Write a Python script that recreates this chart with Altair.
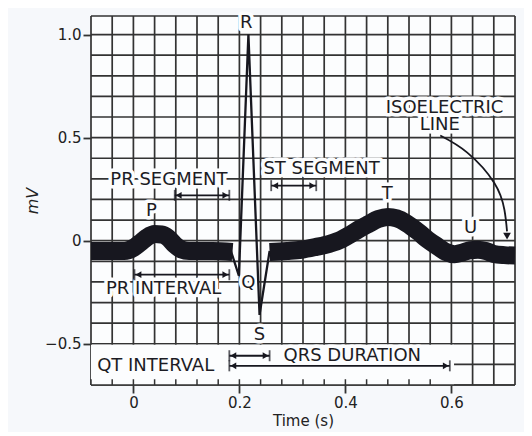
import altair as alt
import pandas as pd

# ---------------- ECG trace (time in s, voltage in mV) ----------------
band1_t = [-0.08, -0.04, -0.017, 0.0, 0.012, 0.025, 0.04, 0.053, 0.065, 0.078, 0.09, 0.105, 0.15, 0.187]
band1_mv = [-0.05, -0.05, -0.05, -0.035, -0.012, 0.015, 0.032, 0.03, 0.015, -0.02, -0.042, -0.05, -0.05, -0.055]

qrs_t = [0.184, 0.199, 0.217, 0.238, 0.257]
qrs_mv = [-0.05, -0.17, 1.0, -0.36, -0.05]

band2_t = [0.257, 0.29, 0.317, 0.345, 0.37, 0.392, 0.406, 0.425, 0.443, 0.462, 0.48, 0.497,
           0.515, 0.538, 0.555, 0.575, 0.59, 0.606, 0.62, 0.635, 0.65, 0.665, 0.68, 0.70, 0.72]
band2_mv = [-0.055, -0.05, -0.044, -0.03, -0.015, 0.005, 0.025, 0.055, 0.08, 0.105, 0.115, 0.108,
            0.085, 0.042, 0.005, -0.03, -0.055, -0.066, -0.058, -0.046, -0.044, -0.05, -0.064, -0.07, -0.072]

# ---------------- grid / axes ----------------
grid_t = [-0.08, -0.04, 0.0, 0.04, 0.08, 0.12, 0.16, 0.2, 0.24, 0.28, 0.32, 0.36, 0.4,
          0.44, 0.48, 0.52, 0.56, 0.6, 0.64, 0.68, 0.72]
grid_mv = [-0.7, -0.6, -0.5, -0.4, -0.3, -0.2, -0.1, 0.0, 0.1, 0.2, 0.3, 0.4, 0.5,
           0.6, 0.7, 0.8, 0.9, 1.0, 1.09]
minor_tick_t = [-0.08, -0.04, 0.0, 0.04, 0.08, 0.12, 0.16, 0.2, 0.24, 0.28, 0.32, 0.36,
                0.4, 0.44, 0.48, 0.52, 0.56]
x_ticks = [0, 0.2, 0.4, 0.6]
y_ticks = [-0.5, 0, 0.5, 1.0]
t_domain = [-0.08, 0.72]
mv_domain = [-0.7, 1.09]
box_t = [-0.08, 0.605]
box_mv = [-0.7, -0.505]

# ---------------- annotations ----------------
label_text = ["P", "Q", "R", "S", "T", "U", "PR SEGMENT", "PR INTERVAL", "ST SEGMENT",
              "QRS DURATION", "QT INTERVAL", "ISOELECTRIC", "LINE"]
label_t = [0.034, 0.217, 0.213, 0.238, 0.479, 0.636, 0.067, 0.057, 0.355,
           0.413, 0.042, 0.587, 0.578]
label_mv = [0.146, -0.204, 1.058, -0.456, 0.228, 0.063, 0.296, -0.233, 0.35,
            -0.558, -0.607, 0.646, 0.563]

arrow_name = ["PR SEGMENT", "PR INTERVAL", "ST SEGMENT", "QRS DURATION", "QT INTERVAL"]
arrow_t0 = [0.078, 0.002, 0.26, 0.181, 0.181]
arrow_t1 = [0.181, 0.181, 0.345, 0.257, 0.597]
arrow_mv = [0.22, -0.165, 0.267, -0.558, -0.607]

iso_t = [0.579, 0.630, 0.681, 0.700, 0.705]
iso_mv = [0.51, 0.427, 0.28, 0.15, 0.045]
iso_tip_t = [0.705]
iso_tip_mv = [0.022]

INK = "#17171f"
GRID = "#333333"
PAPER = "#fcfdfe"
FONT = "DejaVu Sans"

# ---------------- data frames ----------------
band_df = pd.DataFrame({
    "t": band1_t + band2_t,
    "mv": band1_mv + band2_mv,
    "seg": ["a"] * len(band1_t) + ["b"] * len(band2_t),
})
qrs_df = pd.DataFrame({"t": qrs_t, "mv": qrs_mv})
vgrid_df = pd.DataFrame({"t": grid_t, "lo": [mv_domain[0]] * len(grid_t), "hi": [mv_domain[1]] * len(grid_t)})
hgrid_df = pd.DataFrame({"mv": grid_mv, "lo": [t_domain[0]] * len(grid_mv), "hi": [t_domain[1]] * len(grid_mv)})
box_df = pd.DataFrame({"t0": [box_t[0]], "t1": [box_t[1]], "m0": [box_mv[0]], "m1": [box_mv[1]]})
bottom_df = pd.DataFrame({"mv": [mv_domain[0]], "lo": [t_domain[0]], "hi": [t_domain[1]]})
minor_df = pd.DataFrame({"t": minor_tick_t, "lo": [mv_domain[0]] * len(minor_tick_t),
                         "hi": [mv_domain[0] + 0.028] * len(minor_tick_t)})
label_df = pd.DataFrame({"t": label_t, "mv": label_mv, "text": label_text})
arrow_df = pd.DataFrame({"name": arrow_name, "t0": arrow_t0, "t1": arrow_t1, "mv": arrow_mv})
iso_df = pd.DataFrame({"t": iso_t, "mv": iso_mv, "o": list(range(len(iso_t)))})
tip_df = pd.DataFrame({"t": iso_tip_t, "mv": iso_tip_mv})

xscale = alt.Scale(domain=t_domain, nice=False, zero=False)
yscale = alt.Scale(domain=mv_domain, nice=False, zero=False)

xaxis = alt.Axis(values=x_ticks, grid=False, domain=False,
                 labelExpr="datum.value == 0 ? '0' : format(datum.value, '.1f')",
                 tickSize=8, tickWidth=1.8, tickColor=GRID,
                 labelFont=FONT, labelFontSize=15, labelColor="#222222", labelPadding=2,
                 title="Time (s)", titleFont=FONT, titleFontSize=15, titleFontWeight="normal",
                 titleColor="#222222", titlePadding=3)
yaxis = alt.Axis(values=y_ticks, grid=False, domain=False,
                 labelExpr="datum.value == 0 ? '0' : format(datum.value, '.1f')",
                 tickSize=8, tickWidth=1.8, tickColor=GRID,
                 labelFont=FONT, labelFontSize=15, labelColor="#222222", labelPadding=2,
                 title="mV", titleFont=FONT, titleFontSize=16, titleFontWeight="normal",
                 titleFontStyle="italic", titleColor="#222222", titlePadding=4)


def X(field):
    return alt.X(field, type="quantitative", scale=xscale, axis=xaxis)


def Y(field):
    return alt.Y(field, type="quantitative", scale=yscale, axis=yaxis)


vgrid = alt.Chart(vgrid_df).mark_rule(color=GRID, strokeWidth=1.7).encode(
    x=X("t"), y=Y("lo"), y2="hi")
hgrid = alt.Chart(hgrid_df).mark_rule(color=GRID, strokeWidth=1.7).encode(
    y=Y("mv"), x=X("lo"), x2="hi")
box = alt.Chart(box_df).mark_rect(color=PAPER).encode(
    x=X("t0"), x2="t1", y=Y("m0"), y2="m1")
bottom = alt.Chart(bottom_df).mark_rule(color=GRID, strokeWidth=1.7).encode(
    y=Y("mv"), x=X("lo"), x2="hi")
minor = alt.Chart(minor_df).mark_rule(color=GRID, strokeWidth=1.5).encode(
    x=X("t"), y=Y("lo"), y2="hi")

halo = alt.Chart(label_df).mark_text(
    font=FONT, fontSize=18, align="center", baseline="middle",
    fill=PAPER, stroke=PAPER, strokeWidth=7, strokeJoin="round").encode(
    x=X("t"), y=Y("mv"), text="text:N")

band = alt.Chart(band_df).mark_line(
    color=INK, strokeWidth=18, interpolate="monotone", strokeCap="butt", strokeJoin="round").encode(
    x=X("t"), y=Y("mv"), detail="seg:N")
qrs = alt.Chart(qrs_df).mark_line(color=INK, strokeWidth=2.3, strokeJoin="miter").encode(
    x=X("t"), y=Y("mv"))

arrow_line = alt.Chart(arrow_df).mark_rule(color=INK, strokeWidth=1.8).encode(
    x=X("t0"), x2="t1", y=Y("mv"))
bar0 = alt.Chart(arrow_df).mark_tick(color=INK, orient="vertical", size=11, thickness=1.8).encode(
    x=X("t0"), y=Y("mv"))
bar1 = alt.Chart(arrow_df).mark_tick(color=INK, orient="vertical", size=11, thickness=1.8).encode(
    x=X("t1"), y=Y("mv"))
head0 = alt.Chart(arrow_df).mark_point(shape="triangle-left", filled=True, color=INK, size=45,
                                       opacity=1, xOffset=4).encode(x=X("t0"), y=Y("mv"))
head1 = alt.Chart(arrow_df).mark_point(shape="triangle-right", filled=True, color=INK, size=45,
                                       opacity=1, xOffset=-4).encode(x=X("t1"), y=Y("mv"))

iso_line = alt.Chart(iso_df).mark_line(color=INK, strokeWidth=1.8, interpolate="natural").encode(
    x=X("t"), y=Y("mv"), order="o:Q")
iso_tip = alt.Chart(tip_df).mark_point(shape="triangle-down", filled=True, color=INK, size=60,
                                       opacity=1).encode(x=X("t"), y=Y("mv"))

text = alt.Chart(label_df).mark_text(
    font=FONT, fontSize=18, align="center", baseline="middle", color="#1c1c24").encode(
    x=X("t"), y=Y("mv"), text="text:N")

chart = alt.layer(
    vgrid, hgrid, box, bottom, minor, halo, band, qrs,
    arrow_line, bar0, bar1, head0, head1, iso_line, iso_tip, text
).properties(
    width=424, height=369,
    autosize=alt.AutoSizeParams(type="none"),
    padding={"left": 83, "top": 8, "right": 9, "bottom": 47},
    background="#f6f8fb",
).configure_view(stroke=None, fill=PAPER)

chart.save("out.html", embed_options={"renderer": "svg", "actions": False})
